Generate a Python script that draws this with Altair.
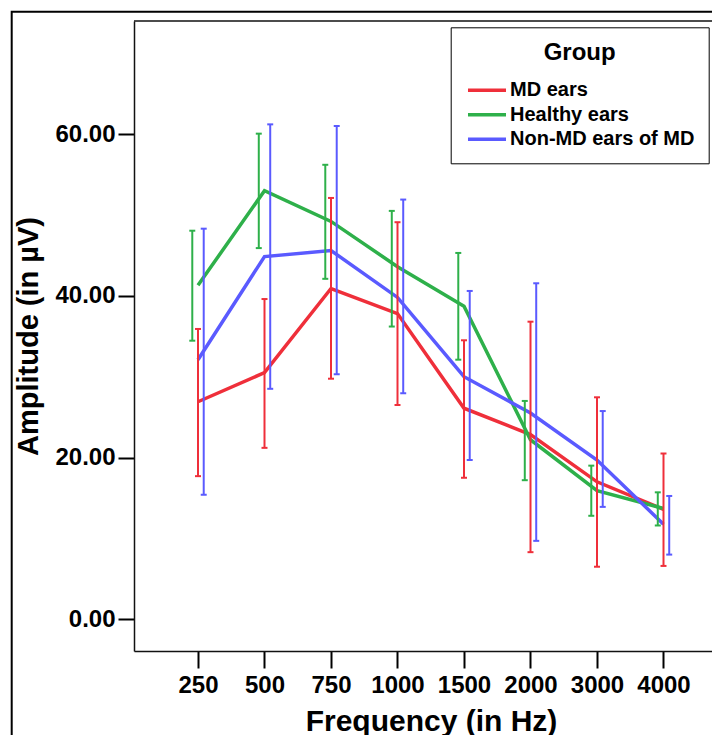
import altair as alt
import pandas as pd

freqs = ["250", "500", "750", "1000", "1500", "2000", "3000", "4000"]
groups = ["MD ears", "Healthy ears", "Non-MD ears of MD"]

md_mean = [26.9, 30.5, 40.9, 37.8, 26.1, 22.85, 17.0, 13.6]
md_lo = [17.7, 21.2, 29.75, 26.5, 17.5, 8.3, 6.5, 6.6]
md_hi = [35.9, 39.6, 52.1, 49.1, 34.5, 36.8, 27.45, 20.5]

h_mean = [41.3, 53.0, 49.2, 43.6, 38.7, 22.2, 15.9, 13.7]
h_lo = [34.45, 45.9, 42.1, 36.2, 32.1, 17.2, 12.8, 11.6]
h_hi = [48.05, 60.05, 56.2, 50.5, 45.3, 27.0, 19.0, 15.7]

n_mean = [32.1, 44.85, 45.6, 39.8, 30.0, 25.5, 19.7, 11.75]
n_lo = [15.4, 28.5, 30.3, 27.95, 19.7, 9.7, 13.9, 8.0]
n_hi = [48.3, 61.2, 61.0, 51.9, 40.6, 41.55, 25.75, 15.25]

colors = ["#ef2f3a", "#2eb04a", "#5a5aff"]
y_ticks = [0, 20, 40, 60]

series = {
    "MD ears": (md_mean, md_lo, md_hi),
    "Healthy ears": (h_mean, h_lo, h_hi),
    "Non-MD ears of MD": (n_mean, n_lo, n_hi),
}
rows = []
for g in groups:
    m, lo, hi = series[g]
    for i, f in enumerate(freqs):
        rows.append({"i": i, "freq": f, "group": g, "mean": m[i], "lo": lo[i], "hi": hi[i]})
df = pd.DataFrame(rows)

FONT = "Liberation Sans"
W, H = 578, 630
xscale = alt.Scale(domain=[-0.9624, -0.9624 + W / 66.5], nice=False, zero=False)
yscale = alt.Scale(domain=[-3.92, 73.98], nice=False, zero=False)

label_expr = "[" + ",".join(f"'{f}'" for f in freqs) + "][round(datum.value)]"
xaxis = alt.Axis(values=list(range(len(freqs))), labelExpr=label_expr, grid=False,
                 domain=True, domainColor="#111111", domainWidth=1.5,
                 labelFont=FONT, labelFontSize=24, labelFontWeight="bold", labelColor="black",
                 tickSize=17, tickWidth=2, tickColor="black", labelPadding=5,
                 title="Frequency (in Hz)", titleFont=FONT, titleFontSize=30, titleFontWeight="bold",
                 titleColor="black", titleX=297, titleY=79, titleBaseline="alphabetic")
yaxis = alt.Axis(values=y_ticks, format=".2f", grid=False,
                 domain=True, domainColor="#111111", domainWidth=1.5,
                 labelFont=FONT, labelFontSize=24, labelFontWeight="bold", labelColor="black",
                 tickSize=16, tickWidth=2, tickColor="black", labelPadding=3,
                 title="Amplitude (in µV)", titleFont=FONT, titleFontSize=29, titleFontWeight="bold",
                 titleColor="black", titleX=-91, titleY=315)

legend = alt.Legend(title="Group", orient="none", legendX=316.7, legendY=6.3, direction="vertical",
                    strokeColor="black", fillColor="white", padding=14,
                    titleFont=FONT, titleFontSize=24, titleFontWeight="bold", titleColor="black",
                    titleAnchor="middle", titlePadding=12,
                    labelFont=FONT, labelFontSize=20, labelFontWeight="bold", labelColor="black",
                    labelLimit=500,
                    symbolType="M-1.7,0L1.7,0", symbolSize=500, symbolStrokeWidth=3.5,
                    symbolOffset=9.3, labelOffset=10, rowPadding=1.5)

color = alt.Color("group:N", scale=alt.Scale(domain=groups, range=colors), legend=legend)
color_nl = alt.Color("group:N", scale=alt.Scale(domain=groups, range=colors), legend=None)

dodge = "datum.i + (datum.group == 'Healthy ears' ? -0.086 : (datum.group == 'Non-MD ears of MD' ? 0.086 : 0))"

base = alt.Chart(df)
one = pd.DataFrame({"k": [0]})

frame = alt.Chart(one).mark_rect(fillOpacity=0, stroke="black", strokeWidth=2).encode(
    x=alt.value(-122.3), x2=alt.value(900), y=alt.value(-9.3), y2=alt.value(900))
top_line = alt.Chart(one).mark_rule(stroke="#111111", strokeWidth=1.5).encode(
    x=alt.value(0), x2=alt.value(W + 20), y=alt.value(0))

lines = base.mark_line(strokeWidth=3.5).encode(
    x=alt.X("i:Q", scale=xscale, axis=xaxis),
    y=alt.Y("mean:Q", scale=yscale, axis=yaxis),
    color=color,
    order="i:Q",
)

eb = base.transform_calculate(xo=dodge, xa="datum.xo - 0.045", xb="datum.xo + 0.045")
bars = eb.mark_rule(strokeWidth=2).encode(
    x=alt.X("xo:Q", scale=xscale, axis=xaxis),
    y=alt.Y("lo:Q", scale=yscale, axis=yaxis), y2="hi:Q", color=color_nl)
cap_lo = eb.mark_rule(strokeWidth=2).encode(
    x=alt.X("xa:Q", scale=xscale, axis=xaxis), x2="xb:Q",
    y=alt.Y("lo:Q", scale=yscale, axis=yaxis), color=color_nl)
cap_hi = eb.mark_rule(strokeWidth=2).encode(
    x=alt.X("xa:Q", scale=xscale, axis=xaxis), x2="xb:Q",
    y=alt.Y("hi:Q", scale=yscale, axis=yaxis), color=color_nl)

chart = alt.layer(frame, top_line, lines, bars, cap_lo, cap_hi).properties(
    width=W, height=H,
    autosize=alt.AutoSizeParams(type="none"),
    padding={"left": 126, "top": 13, "right": 0, "bottom": 84},
    background="white",
).configure_view(stroke=None)

chart.save("out.html", embed_options={"renderer": "svg", "actions": False})
